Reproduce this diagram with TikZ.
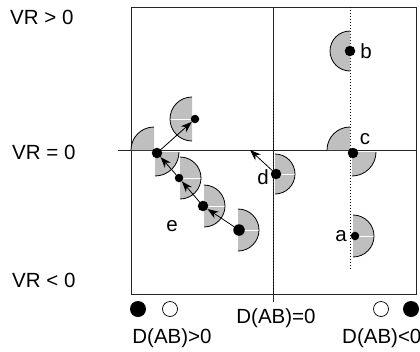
\documentclass[tikz,border=0pt]{standalone}
\usepackage{fontspec}
\setmainfont{Liberation Sans}
\usetikzlibrary{arrows.meta}
\begin{document}
\begin{tikzpicture}[x=1pt,y=-1pt,
  lbl/.style={inner sep=0pt,font=\fontsize{20.5}{24}\selectfont},
  dotbig/.style={circle,fill=black,inner sep=0pt,minimum size=10.5pt},
  dotsmall/.style={circle,fill=black,inner sep=0pt,minimum size=8.5pt},
  gfill/.style={fill=black!25},
  arcline/.style={draw=black,line width=0.8pt},
  sep/.style={draw=white,line width=0.8pt},
  axis/.style={draw=black!85,line width=0.9pt},
  arr/.style={-{Stealth[length=11pt,width=8pt]},line width=0.8pt},
  legfull/.style={circle,fill=black,inner sep=0pt,minimum size=16pt},
  legopen/.style={circle,draw=black,line width=0.7pt,fill=white,inner sep=0pt,minimum size=15pt}]
\useasboundingbox (0,0) rectangle (420,351);
% frame and axes
\draw[axis] (131,7) rectangle (416,294);
\draw[axis] (118,150) -- (416,150);
\draw[axis] (273,7) -- (273,302);
\draw[line width=1pt,dotted] (273,93) -- (273,294);
\draw[line width=1pt,dotted] (350,7) -- (350,270);
% b (left half)
\fill[gfill] (350,51) -- (350,31) arc (-90:-270:20) -- cycle;
\draw[arcline] (350,31) arc (-90:-270:20);
% c (top-left and bottom-right quarters)
\fill[gfill] (350,150) -- (350,127) arc (-90:-180:23) -- cycle;
\draw[arcline] (350,127) arc (-90:-180:23);
\fill[gfill] (352,152) -- (352,176) arc (-270:-360:24) -- cycle;
\draw[arcline] (352,176) arc (-270:-360:24);
% a (right half)
\fill[gfill] (353,236) -- (353,215) arc (-90:90:21) -- cycle;
\draw[sep] (353,236) -- (374,236);
\draw[arcline] (353,215) arc (-90:90:21);
% d
\fill[gfill] (275,174) -- (275,154) arc (-90:90:20) -- cycle;
\draw[sep] (275,174) -- (295,174);
\draw[arcline] (275,154) arc (-90:90:20);
% L
\fill[gfill] (154,150) -- (154,127) arc (-90:-180:23) -- cycle;
\draw[arcline] (154,127) arc (-90:-180:23);
\fill[gfill] (155,152) -- (155,176) arc (-270:-360:24) -- cycle;
\draw[arcline] (155,176) arc (-270:-360:24);
% U (left half)
\fill[gfill] (192,119) -- (192,97) arc (-90:-270:22) -- cycle;
\draw[sep] (192,119) -- (170,119);
\draw[arcline] (192,97) arc (-90:-270:22);
% M1
\fill[gfill] (180,178) -- (180,157) arc (-90:90:21) -- cycle;
\draw[sep] (180,178) -- (201,178);
\draw[arcline] (180,157) arc (-90:90:21);
% M2
\fill[gfill] (204,206) -- (204,185) arc (-90:90:21) -- cycle;
\draw[sep] (204,206) -- (225,206);
\draw[arcline] (204,185) arc (-90:90:21);
% M3
\fill[gfill] (238,230) -- (238,209) arc (-90:90:21) -- cycle;
\draw[sep] (238,230) -- (259,230);
\draw[arcline] (238,209) arc (-90:90:21);
% dots
\node[dotbig] (b) at (350,51) {};
\node[dotbig] (c) at (353,153) {};
\node[dotsmall] (a) at (355,236) {};
\node[dotbig] (d) at (276,174) {};
\node[dotbig] (L) at (157,153) {};
\node[dotsmall] (U) at (195,119) {};
\node[dotsmall] (M1) at (179,178) {};
\node[dotbig] (M2) at (203,206) {};
\node[dotbig,minimum size=11.5pt] (M3) at (239,230) {};
\coordinate (dtip) at (250,150);
% arrows
\draw[arr] (d) -- (dtip);
\draw[arr] (L) -- (U);
\draw[arr] (M3) -- (M2);
\draw[arr] (M2) -- (M1);
\draw[arr] (M1) -- (L);
% labels
\node[lbl] (lb) at (366,51) {b};
\node[lbl] (lc) at (365,139) {c};
\node[lbl] (la) at (341,236) {a};
\node[lbl] (ld) at (263,177) {d};
\node[lbl] (le) at (172,226) {e};
\node[lbl,anchor=west] (v1) at (10,17) {VR > 0};
\node[lbl,anchor=west] (v2) at (12,152) {VR = 0};
\node[lbl,anchor=west] (v3) at (12,280) {VR < 0};
% legend
\node[legfull] (f1) at (138,309) {};
\node[legopen] (o1) at (170,309) {};
\node[legopen] (o2) at (381,309) {};
\node[legfull] (f2) at (411,309) {};
\node[lbl] (t1) at (172,338) {D(AB)>0};
\node[lbl] (t2) at (276,318) {D(AB)=0};
\node[lbl,anchor=west] (t3) at (342,338) {D(AB)<0};
\end{tikzpicture}
\end{document}
